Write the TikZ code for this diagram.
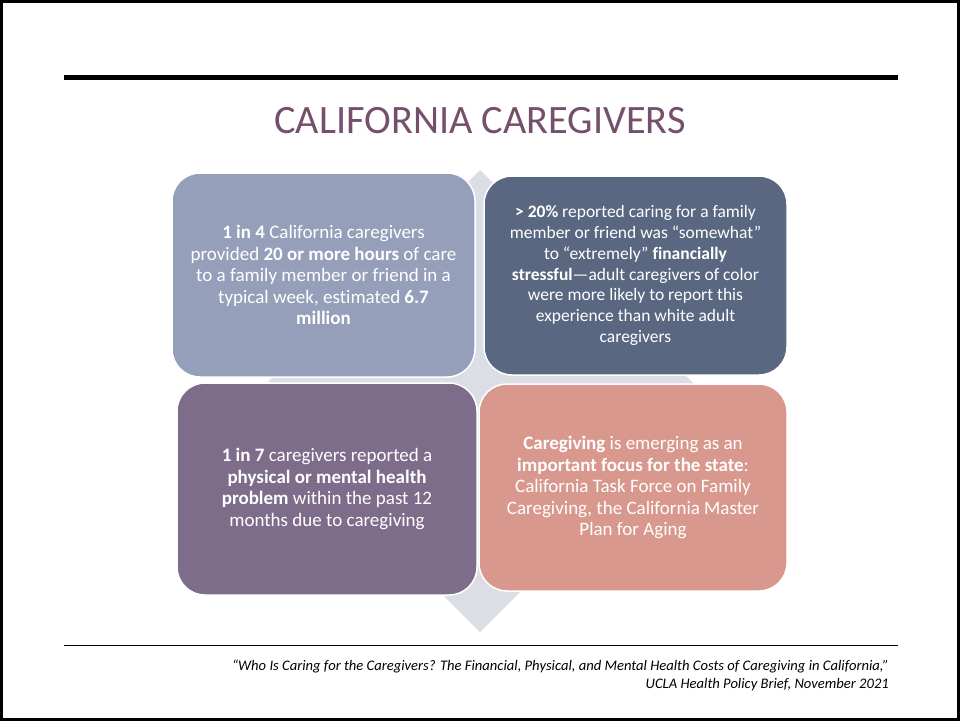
\documentclass[tikz,border=0pt]{standalone}
\usepackage{fontspec}
\setmainfont{Carlito}[Ligatures=NoCommon]
\definecolor{titlepurple}{RGB}{117,80,108}
\definecolor{diamondgray}{RGB}{219,222,229}
\definecolor{quadA}{RGB}{149,159,186}
\definecolor{quadB}{RGB}{90,103,129}
\definecolor{quadC}{RGB}{126,109,138}
\definecolor{quadD}{RGB}{217,152,141}
\begin{document}
\begin{tikzpicture}[x=1pt,y=-1pt,
    quad/.style={draw=white,line width=1.5pt,rounded corners=28pt,text=white,align=center,
      inner sep=0pt,font=\fontsize{19}{21.5}\selectfont}]
    \useasboundingbox (0,0) rectangle (960,721);
    %% frame and top rule
    \draw[line width=3pt] (1.5,1.5) rectangle (958.5,719.5);
    \draw[line width=4.5pt] (64,77.5) -- (898,77.5);
    %% title
    \node[text=titlepurple,font=\fontsize{40.3}{48}\selectfont] (title) at (480,121) {CALIFORNIA CAREGIVERS};
    %% diamond behind the quadrants
    \fill[diamondgray] (480,170) -- (711,401) -- (480,632) -- (249,401) -- cycle;
    %% top left
    \node[quad,fill=quadA,minimum width=303pt,minimum height=204pt] (hours) at (323.5,275)
        {\textbf{1 in 4} California caregivers\\
         provided \textbf{20 or more hours} of care\\
         to a family member or friend in a\\
         typical week, estimated \textbf{6.7}\\
         \textbf{million}};
    %% top right (smaller text)
    \node[quad,fill=quadB,minimum width=303pt,minimum height=199pt,font=\fontsize{17.5}{20.8}\selectfont] (stress) at (635.5,275.5)
        {\textbf{> 20\%} reported caring for a family\\
         member or friend was “somewhat”\\
         to “extremely” \textbf{financially}\\
         \textbf{stressful}—adult caregivers of color\\
         were more likely to report this\\
         experience than white adult\\
         caregivers};
    %% bottom left
    \node[quad,fill=quadC,minimum width=300pt,minimum height=212pt] (health) at (327,489)
        {\textbf{1 in 7} caregivers reported a\\
         \textbf{physical or mental health}\\
         \textbf{problem} within the past 12\\
         months due to caregiving};
    %% bottom right
    \node[quad,fill=quadD,minimum width=308pt,minimum height=207pt] (focus) at (633,487.5)
        {\textbf{Caregiving} is emerging as an\\
         \textbf{important focus for the state}:\\
         California Task Force on Family\\
         Caregiving, the California Master\\
         Plan for Aging};
    %% source
    \draw[line width=1.3pt] (64,645.5) -- (898,645.5);
    \node[anchor=east,align=right,inner sep=0pt,font=\itshape\fontsize{14.6}{18}\selectfont] (source) at (889,675.5)
        {“Who Is Caring for the Caregivers? The Financial, Physical, and Mental Health Costs of Caregiving in California,”\\
         UCLA Health Policy Brief, November 2021};
\end{tikzpicture}
\end{document}
